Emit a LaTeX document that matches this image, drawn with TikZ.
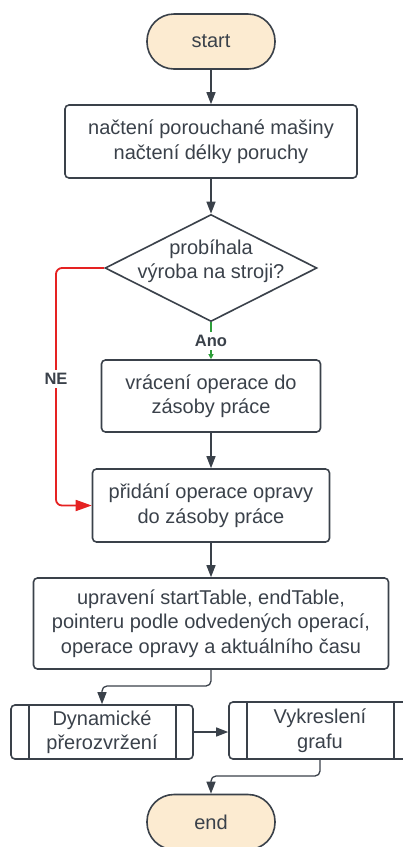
\documentclass[tikz,border=0pt]{standalone}
\usepackage{fontspec}
\setmainfont{Liberation Sans}
\usetikzlibrary{arrows.meta,shapes.geometric,calc}
\definecolor{ink}{HTML}{3A414A}
\definecolor{termfill}{HTML}{FCEBD1}
\definecolor{noline}{HTML}{E52222}
\definecolor{yesline}{HTML}{2E9E3A}

\begin{document}
\begin{tikzpicture}[x=1pt,y=-1pt,
  every node/.style={font=\fontsize{20}{24.5}\selectfont, text=ink},
  box/.style={draw=ink, line width=1.6pt, rounded corners=4pt, align=center, inner sep=0pt},
  terminal/.style={draw=ink, fill=termfill, line width=1.6pt, rounded corners=27pt,
    minimum width=128pt, minimum height=55pt, inner sep=0pt},
  decision/.style={draw=ink, line width=1.6pt, diamond, inner sep=0pt,
    minimum width=212pt, minimum height=107pt},
  pproc/.style={box, minimum width=182pt},
  flow/.style={draw=ink, line width=1.3pt, rounded corners=5pt,
    -{Triangle[length=12pt,width=9pt]}},
  yes/.style={draw=yesline, line width=1.1pt, -{Triangle[length=5pt,width=5pt]}},
  no/.style={draw=noline, line width=1.8pt, rounded corners=6pt,
    -{Triangle[length=16pt,width=11pt]}},
  tag/.style={font=\fontsize{16.5}{19}\selectfont\bfseries, fill=white, inner sep=3pt}
]
\useasboundingbox (0,0) rectangle (403,847);
\clip (0,0) rectangle (403,847);

% nodes
\node[terminal] (start) at (211,41.5) {start};
\node[box, minimum width=292pt, minimum height=73pt] (load) at (211,141.5)
  {načtení porouchané mašiny\\načtení délky poruchy};
\node[decision] (q) at (211,268) {};
\node[align=center] (qtext) at (211,261) {probíhala\\výroba na stroji?};
\node[box, minimum width=219pt, minimum height=72pt] (back) at (211,396)
  {vrácení operace do\\zásoby práce};
\node[box, minimum width=237pt, minimum height=73pt] (add) at (211,505.5)
  {přidání operace opravy\\do zásoby práce};
\node[box, minimum width=355pt, minimum height=91pt] (upd) at (211,623.5)
  {upravení startTable, endTable,\\pointeru podle odvedených operací,\\operace opravy a aktuálního času};
\node[pproc, minimum height=54pt] (dyn) at (102,732)
  {Dynamické\\přerozvržení};
\node[pproc, minimum height=57pt] (plot) at (320,730.5)
  {Vykreslení\\grafu};
\node[terminal] (end) at (211,822) {end};

% side bars of the predefined-process boxes
\foreach \n in {dyn,plot}{
  \draw[ink, line width=1.6pt] ($(\n.north west)+(19,0)$) -- ($(\n.south west)+(19,0)$);
  \draw[ink, line width=1.6pt] ($(\n.north east)+(-18,0)$) -- ($(\n.south east)+(-18,0)$);
}

% connectors
\draw[flow] (start) -- (load);
\draw[flow] (load) -- (q.north);
\draw[yes] (q.south) -- (back.north) node[tag, midway, text=ink] {Ano};
\draw[flow] (back) -- (add);
\coordinate (nebend) at (56,268);
\draw[no] (q.west) -- (nebend) |- (add.west);
\node[tag] (ne) at (56,379) {NE};
\draw[flow] (add) -- (upd);
\coordinate (split1) at (211,686);
\draw[flow] (upd.south) -- (split1) -| (dyn.north);
\draw[flow] (dyn.east) -- (dyn.east -| plot.west);
\coordinate (split2) at (320,776);
\draw[flow] (plot.south) -- (split2) -| (end.north);
\end{tikzpicture}
\end{document}
